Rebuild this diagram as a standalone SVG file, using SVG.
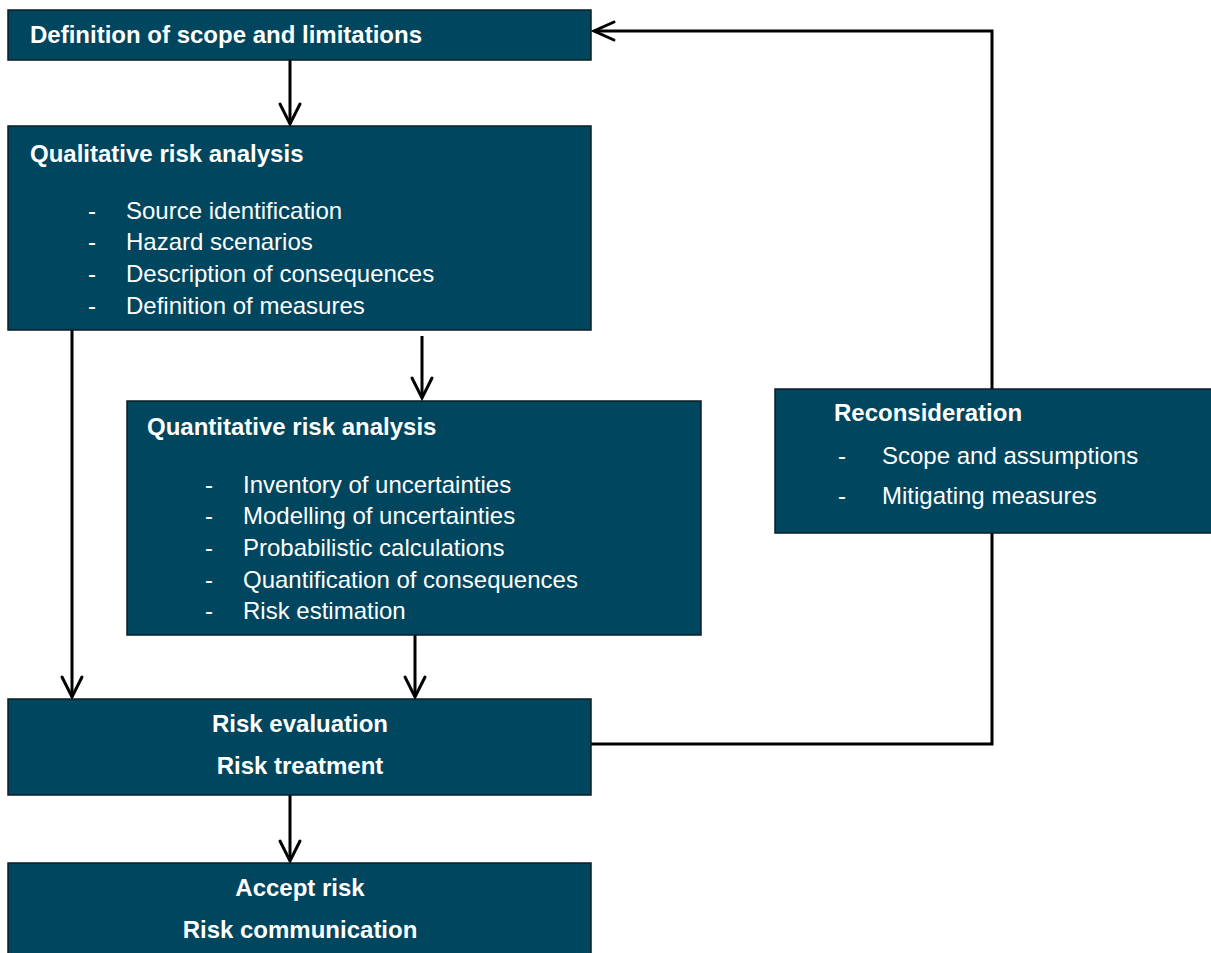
<svg xmlns="http://www.w3.org/2000/svg" width="1211" height="953" viewBox="0 0 1211 953">
  <style>
    .box { fill: #00465e; stroke: #0a1e26; stroke-width: 1.5; }
    .t { font-family: "Liberation Sans", Arial, sans-serif; font-size: 24px; fill: #ffffff; }
    .b { font-weight: bold; }
    .c { text-anchor: middle; }
    .wire { fill: none; stroke: #000000; stroke-width: 3; }
    .head { fill: none; stroke: #000000; stroke-width: 3; stroke-linecap: round; stroke-linejoin: miter; }
  </style>

  <g id="connectors">
    <!-- scope -> qualitative -->
    <line class="wire" x1="290" y1="60" x2="290" y2="124"/>
    <polyline class="head" points="280,104 290,124 300,104"/>
    <!-- qualitative -> quantitative -->
    <line class="wire" x1="422" y1="336" x2="422" y2="398"/>
    <polyline class="head" points="412,378 422,398 432,378"/>
    <!-- qualitative -> evaluation (bypass) -->
    <line class="wire" x1="72" y1="330" x2="72" y2="697"/>
    <polyline class="head" points="62,677 72,697 82,677"/>
    <!-- quantitative -> evaluation -->
    <line class="wire" x1="415" y1="635" x2="415" y2="697"/>
    <polyline class="head" points="405,677 415,697 425,677"/>
    <!-- evaluation -> accept -->
    <line class="wire" x1="290" y1="795" x2="290" y2="861"/>
    <polyline class="head" points="280,841 290,861 300,841"/>
    <!-- feedback loop through reconsideration -->
    <polyline class="wire" points="591,744 992,744 992,533"/>
    <polyline class="wire" points="992,389 992,31 594,31"/>
    <polyline class="head" points="614,22 594,31 614,40"/>
  </g>

  <g id="scope">
    <rect class="box" x="8" y="10" width="583" height="50"/>
    <text class="t b" x="30" y="43">Definition of scope and limitations</text>
  </g>

  <g id="qualitative">
    <rect class="box" x="8" y="126" width="583" height="204"/>
    <text class="t b" x="30" y="162">Qualitative risk analysis</text>
    <text class="t" x="88" y="219">-</text><text class="t" x="126" y="219">Source identification</text>
    <text class="t" x="88" y="250">-</text><text class="t" x="126" y="250">Hazard scenarios</text>
    <text class="t" x="88" y="282">-</text><text class="t" x="126" y="282">Description of consequences</text>
    <text class="t" x="88" y="314">-</text><text class="t" x="126" y="314">Definition of measures</text>
  </g>

  <g id="quantitative">
    <rect class="box" x="127" y="401" width="574" height="234"/>
    <text class="t b" x="147" y="435">Quantitative risk analysis</text>
    <text class="t" x="205" y="493">-</text><text class="t" x="243" y="493">Inventory of uncertainties</text>
    <text class="t" x="205" y="524">-</text><text class="t" x="243" y="524">Modelling of uncertainties</text>
    <text class="t" x="205" y="556">-</text><text class="t" x="243" y="556">Probabilistic calculations</text>
    <text class="t" x="205" y="588">-</text><text class="t" x="243" y="588">Quantification of consequences</text>
    <text class="t" x="205" y="619">-</text><text class="t" x="243" y="619">Risk estimation</text>
  </g>

  <g id="reconsideration">
    <rect class="box" x="775" y="389" width="440" height="144"/>
    <text class="t b" x="834" y="421">Reconsideration</text>
    <text class="t" x="838" y="464">-</text><text class="t" x="882" y="464">Scope and assumptions</text>
    <text class="t" x="838" y="504">-</text><text class="t" x="882" y="504">Mitigating measures</text>
  </g>

  <g id="evaluation">
    <rect class="box" x="8" y="699" width="583" height="96"/>
    <text class="t b c" x="300" y="732">Risk evaluation</text>
    <text class="t b c" x="300" y="774">Risk treatment</text>
  </g>

  <g id="accept">
    <rect class="box" x="8" y="863" width="583" height="95"/>
    <text class="t b c" x="300" y="896">Accept risk</text>
    <text class="t b c" x="300" y="938">Risk communication</text>
  </g>
</svg>
